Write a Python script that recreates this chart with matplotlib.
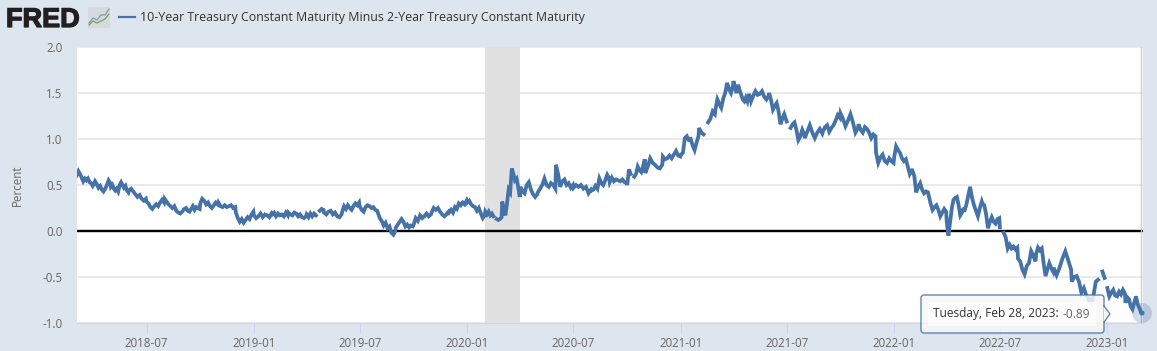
import matplotlib
matplotlib.use('Agg')
import matplotlib.patheffects as pe
import matplotlib.pyplot as plt
import numpy as np
import pandas as pd
from matplotlib.lines import Line2D
from matplotlib.patches import Circle, FancyBboxPatch, Polygon, Rectangle

nan = np.nan

# spread per month (one list per month, nan = gap in the series)
spread_2018 = [
    [.63, .61, .65, .62, .58, .54, .57, .55, .57, .53, .52, .49],
    [.50, .54, .51, .47, .49, .45, .43, .46, .50, .55, .52],
    [.48, .50, .46, .44, .46, .43, .50, .53, .50, .47, .49, .44, .42],
    [.44, .46, .43, .40, .37, .39, .35, .33, .35],
    [.32, .30, .26, .24, .27, .29, .27, .31, .34, .31],
    [.35, .32, .29, .27, .25, .27, .22, .20, .19, .21],
    [nan, .24, .25, .22, .21, .24, .27, .23, .26, .25, .24],
    [.30, .35, .33, .29, .31, .27, .25, .28, .31, .29],
    [.31, .27, .26, .28, .26, .27, .28, .25, .26],
    [.20, .14, .10, .13, .09, .12, .15, .13, .18, .21],
]
spread_2019 = [
    [.17, .14, .16, .19, .15, .18, .17, .15, .19],
    [.18, .20, .16, .19, .17, .18, .16, .20, .17],
    [.20, .18, .17, .20, .19, .16, .18, .15, .14, .16],
    [.18, .15, .19, .16, .19, .17, nan, .22, .24, .23],
    [.20, .18, .21, .22, .18, .20, .16, .15, .18],
    [.21, .27, .24, .28, .25, .23, .27, .30, .28, .31],
    [.27, .23, .21, .26, .28, .27, .25, .26, .23, .22],
    [.20, .14, .11, .06, .09, .03, .05, -.02, -.04, .00],
    [.04, .07, .10, .13, .10, .05, .07, .04, .06, .05],
    [.06, .14, .11, .17, .14, .16, .19, .16, .18],
    [.20, .25, .23, .25, .21, .18, .16, .18, .21],
    [.20, .23, .20, .26, .24, .30, .28, .31, .29, .33],
]
spread_2020 = [
    [.31, .33, .29, .27, .26, .22, .25, .19, .14, .17],
    [.21, .18, .21, .17, .19, .16, nan, .13, .12, .13, .15],
    [.32, .24, .17, .30, .45, .42, .68, .62, .55, .57, .48, .37],
    [.48, .43, .41, .50, .53, .45, .40, .37, .40],
    [.42, .46, .50, .57, .50, .48, .52, .50, .46],
    [.72, .62, .48, .54, .56, .50, .52, .47, .50],
    [.47, .50, .48, .50, .46, .48, .41, .45],
    [.44, .45, .49, .46, .57, .52, .50, .55, .61, .57],
    [.53, .58, .54, .56, .55, .54, .56, .53, .52],
    [.50, .67, .62, nan, .59, .62, .70, .66, .64, .70, .78],
    [.63, .70, .79, .74, .72, .69, .68, .72],
    [.81, .78, .79, .82, .79, .83, .87, .82, .81],
]
spread_2021 = [
    [.83, .85, 1.01, 1.03, .99, 1.00, .93, .88, .96, 1.03],
    [1.12, 1.07, 1.05, nan, 1.18, 1.22, 1.30, 1.27],
    [1.32, 1.43, 1.38, 1.34, 1.44, 1.50, 1.61, 1.54, 1.50, 1.58],
    [1.63, 1.55, 1.50, 1.59, 1.53, 1.48, 1.43, 1.41, 1.45, 1.41, 1.49, 1.44],
    [1.41, 1.47, 1.52, 1.48, 1.49, 1.52, 1.46, 1.43, 1.47],
    [1.50, 1.42, 1.32, 1.36, 1.39, 1.30, 1.16, 1.22, 1.27, 1.21],
    [1.19, nan, 1.12, 1.16, 1.18, 1.10, .99, 1.03, 1.10, 1.05],
    [1.01, 1.08, 1.15, 1.07, 1.01, 1.07, 1.11, 1.06],
    [1.08, 1.13, 1.15, 1.08, 1.12, 1.15, 1.20, 1.26, 1.23],
    [1.28, 1.22, 1.14, 1.20, 1.27, 1.18, 1.07, 1.12],
    [1.16, 1.10, 1.07, 1.13, 1.11, 1.07, 1.01, 1.05, 1.03],
    [.85, .74, .80, .83, .76, .74, .79, .76, .74],
]
spread_2022 = [
    [.80, .92, .88, .85, .79, .76, .78, .70, .62, .66],
    [.66, .60, .42, .48, .52, .45, .41, .43, .42],
    [.39, .30, .23, .26, .28, .23, .16, .20, .24, .21],
    [.10, -.05, .10, .25, .34, .36, .37, .28, .17, .20, .25],
    [.21, .28, .38, .48, .36, .28, .22, .16, .25, .32],
    [.30, .28, .18, .03, .10, .15, .10, .08, .13, .14],
    [.04, nan, -.02, -.07, -.19, -.15, -.19, -.17, -.20, -.18],
    [-.30, -.33, -.42, -.47, -.38, -.35, -.22, -.27, -.33],
    [-.25, -.18, -.21, -.19, -.35, -.49, -.42, -.35, -.40, -.44],
    [-.40, -.48, -.40, -.30, -.22, -.32, -.42],
    [-.55, -.50, -.49, -.55, -.67, -.62, -.70, -.73],
    [-.76, -.78, -.69, -.55, -.53, nan, -.44, -.51, nan],
]
spread_2023 = [
    [-.62, -.71, -.67, -.64, -.70, -.71, -.66, -.69, -.64, -.68],
    [-.78, -.72, -.74, -.82, -.85, -.78, -.71, -.80, -.84, -.89],
]

recession = ['2020-02-01', '2020-04-01']
x_ticks = ['2018-07', '2019-01', '2019-07', '2020-01', '2020-07', '2021-01', '2021-07', '2022-01', '2022-07', '2023-01']
y_ticks = [-1.0, -0.5, 0.0, 0.5, 1.0, 1.5, 2.0]

series_name = '10-Year Treasury Constant Maturity Minus 2-Year Treasury Constant Maturity'

BG = '#dde5ee'
BLUE = '#4572a7'
W, H = 1157, 351

plt.rcParams['font.family'] = ['Open Sans', 'DejaVu Sans']

months = spread_2018 + spread_2019 + spread_2020 + spread_2021 + spread_2022 + spread_2023
month_starts = pd.date_range('2018-03-01', periods=len(months) + 1, freq='MS')
dates = []
values = []
for k, month in enumerate(months):
    start = month_starts[k].value
    end = month_starts[k + 1].value - 86400 * 10**9
    dates.extend(pd.to_datetime(np.linspace(start, end, len(month))))
    values.extend(month)

fig = plt.figure(figsize=(W / 100, H / 100), dpi=100, facecolor=BG)
ax = fig.add_axes([77 / W, 1 - 323 / H, (1143 - 77) / W, (323 - 47) / H])

ax.axvspan(pd.Timestamp(recession[0]), pd.Timestamp(recession[1]), color='#e1e1e1', lw=0, zorder=1)
ax.grid(axis='y', color='#e6e6e6', lw=1.2, zorder=0)
ax.set_axisbelow(True)
ax.axhline(0, color='black', lw=1.7, zorder=2)
ax.plot(dates, values, color=BLUE, lw=2.7, zorder=3, solid_joinstyle='miter')

ax.set_xlim(pd.Timestamp('2018-03-04'), pd.Timestamp('2023-03-03'))
ax.set_ylim(-1, 2)
ax.set_yticks(y_ticks)
ax.set_yticklabels(['%.1f' % v for v in y_ticks])
ax.set_xticks([pd.Timestamp(t + '-01') for t in x_ticks])
ax.set_xticklabels(x_ticks)
ax.tick_params(axis='y', length=0, pad=10.5, labelsize=8.3, labelcolor='#666666')
ax.tick_params(axis='x', length=7, width=0.8, color='#ccd6eb', pad=3, labelsize=8.3, labelcolor='#666666')
for side in ['top', 'left', 'right']:
    ax.spines[side].set_visible(False)
ax.spines['bottom'].set_color('#ccd6eb')
ax.spines['bottom'].set_linewidth(0.8)
ax.set_ylabel('Percent', fontsize=8.3, color='#666666', labelpad=13)

# crosshair on the last observation
ax.axvline(pd.Timestamp('2023-02-28'), color='#cccccc', lw=1, zorder=2)


def px(x, y):
    return x / W, 1 - y / H


# header: logo and legend
logo = fig.text(*px(6, 27), 'FRED', fontsize=19.5, fontweight='bold', color='#231f20',
                family=['Liberation Sans', 'DejaVu Sans'], va='baseline')
logo.set_path_effects([pe.withStroke(linewidth=0.9, foreground='#231f20')])
fig.add_artist(Rectangle(px(88, 27.5), 22 / W, 20 / H, transform=fig.transFigure, fc='#d5dbdd', ec='none'))
logo_x = [89, 93, 97, 101, 105, 109]
logo_blue = [23, 18, 20, 15, 15, 9]
logo_green = [25, 21, 23, 21, 19, 14]
for ys, c in [(logo_blue, '#7d9bb8'), (logo_green, '#7ea04f')]:
    fig.add_artist(Line2D([px(a, 0)[0] for a in logo_x], [px(0, b)[1] for b in ys], color=c, lw=0.9))
fig.add_artist(Line2D([px(119, 0)[0], px(135, 0)[0]], [px(0, 17)[1]] * 2, color=BLUE, lw=1.6))
fig.text(*px(140, 17), series_name, fontsize=8.9, color='#333333', va='center')

# tooltip and highlighted point, drawn in pixel coordinates
ax_px = fig.add_axes([0, 0, 1, 1], facecolor='none')
ax_px.set_xlim(0, W)
ax_px.set_ylim(H, 0)
ax_px.axis('off')
ax_px.add_patch(Circle((1142, 313), 10, fc=BLUE, ec='none', alpha=0.25))
ax_px.add_patch(Circle((1142, 313), 2.5, fc=BLUE, ec='none'))
ax_px.add_patch(FancyBboxPatch((921, 295), 183, 38, boxstyle='round,pad=0,rounding_size=3',
                               fc='#f7f7f7', ec=BLUE, lw=1, alpha=0.85))
ax_px.add_patch(Polygon([[1103.5, 306], [1110, 314], [1103.5, 322]], closed=True, fc='#f7f7f7', ec='none'))
ax_px.plot([1104, 1110, 1104], [306, 314, 322], color=BLUE, lw=1, alpha=0.85)
ax_px.add_patch(Rectangle((928, 302), 168, 24, fc='white', ec='none', alpha=0.75))
ax_px.text(933, 314, 'Tuesday, Feb 28, 2023:', fontsize=8.6, color='#333333', va='center')
ax_px.text(1063, 314, '-0.89', fontsize=8.6, color='#666666', va='center')

fig.savefig('out.png', dpi=100, facecolor=BG)
